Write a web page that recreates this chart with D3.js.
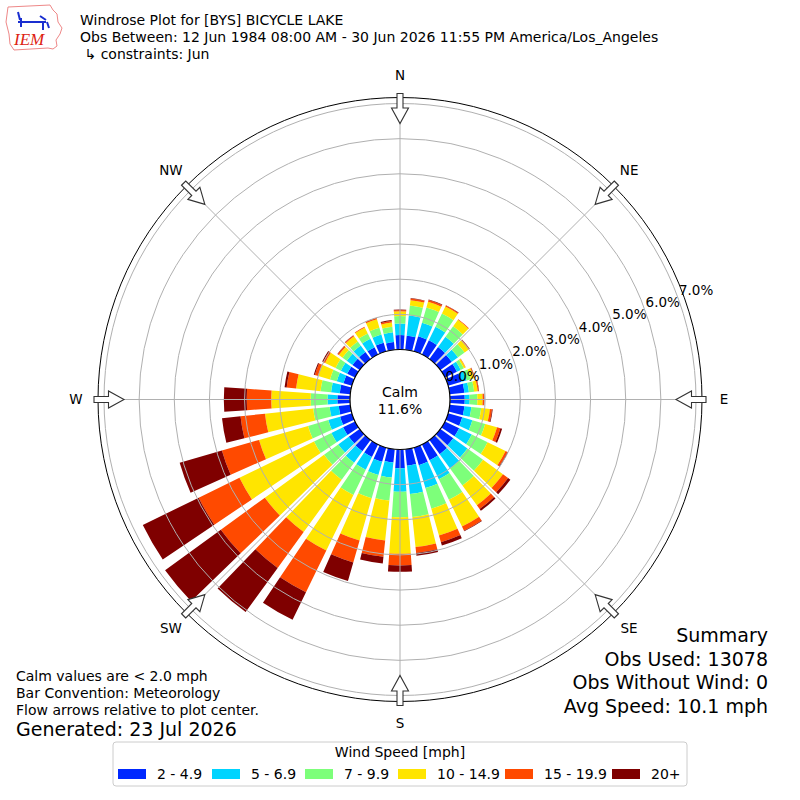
<!DOCTYPE html>
<html>
<head>
<meta charset="utf-8">
<script src="https://cdn.jsdelivr.net/npm/d3@7"></script>
<style>
  body { margin: 0; background: #fff; }
  svg { display: block; font-family: 'DejaVu Sans', sans-serif; }
</style>
</head>
<body>
<div id="chart"></div>
<script>
// directions (deg, meteorological) and frequency (%) per speed bin
const directions = d3.range(0, 360, 10);
const speedBins = ['2 - 4.9', '5 - 6.9', '7 - 9.9', '10 - 14.9', '15 - 19.9', '20+'];
const binColors = ['#0028ff', '#00d4ff', '#7dff7a', '#ffe500', '#ff4a00', '#7f0000'];

const spd2to5 = [0.41, 0.40, 0.45, 0.45, 0.42, 0.40, 0.38, 0.40, 0.42, 0.42, 0.42, 0.42,
  0.45, 0.45, 0.50, 0.50, 0.52, 0.47, 0.53, 0.38, 0.42, 0.40, 0.40, 0.38,
  0.38, 0.35, 0.33, 0.36, 0.30, 0.25, 0.25, 0.25, 0.25, 0.23, 0.26, 0.22];
const spd5to7 = [0.33, 0.58, 0.40, 0.43, 0.36, 0.22, 0.12, 0.15, 0.13, 0.14, 0.20, 0.30,
  0.40, 0.50, 0.50, 0.60, 0.68, 0.81, 0.67, 0.43, 0.39, 0.40, 0.40, 0.37,
  0.37, 0.35, 0.26, 0.28, 0.25, 0.20, 0.20, 0.20, 0.23, 0.27, 0.24, 0.28];
const spd7to10 = [0.21, 0.29, 0.45, 0.42, 0.37, 0.23, 0.10, 0.13, 0.15, 0.22, 0.28, 0.38,
  0.50, 0.55, 0.60, 0.65, 0.61, 0.66, 0.73, 0.66, 0.69, 0.80, 0.60, 0.50,
  0.55, 0.60, 0.47, 0.48, 0.30, 0.20, 0.17, 0.15, 0.14, 0.17, 0.20, 0.16];
const spd10to15 = [0.14, 0.15, 0.17, 0.22, 0.23, 0.15, 0.05, 0.09, 0.10, 0.15, 0.25, 0.35,
  0.57, 0.70, 0.70, 0.85, 0.79, 0.86, 1.04, 1.14, 1.25, 1.76, 1.84, 2.08,
  2.36, 1.45, 1.38, 1.12, 0.70, 0.35, 0.33, 0.13, 0.18, 0.19, 0.25, 0.12];
const spd15to20 = [0.03, 0.05, 0.05, 0.03, 0.02, 0.02, 0.01, 0.02, 0.03, 0.04, 0.06, 0.10,
  0.06, 0.18, 0.13, 0.13, 0.20, 0.17, 0.33, 0.47, 0.65, 1.32, 1.26, 1.55,
  1.29, 1.10, 0.70, 0.70, 0.27, 0.10, 0.06, 0.04, 0.03, 0.02, 0.04, 0.04];
const spd20plus = [0.02, 0.01, 0.02, 0.01, 0.00, 0.01, 0.00, 0.01, 0.01, 0.01, 0.02, 0.05,
  0.02, 0.08, 0.06, 0.02, 0.10, 0.08, 0.18, 0.19, 0.55, 0.87, 1.55, 1.96,
  1.77, 1.25, 0.53, 0.65, 0.06, 0.03, 0.03, 0.01, 0.01, 0.00, 0.01, 0.03];

const radialTicks = [0, 1, 2, 3, 4, 5, 6, 7];
const compassLabels = ['N', 'NE', 'E', 'SE', 'S', 'SW', 'W', 'NW'];
const calmPct = 11.6;

const titleLines = [
  'Windrose Plot for [BYS] BICYCLE LAKE',
  'Obs Between: 12 Jun 1984 08:00 AM - 30 Jun 2026 11:55 PM America/Los_Angeles',
  ' \u21b3 constraints: Jun'
];
const noteLines = ['Calm values are < 2.0 mph', 'Bar Convention: Meteorology', 'Flow arrows relative to plot center.'];
const summaryLines = ['Summary', 'Obs Used: 13078', 'Obs Without Wind: 0', 'Avg Speed: 10.1 mph'];

const width = 800, height = 800;
const cx = 400, cy = 399.5;
const outerR = 302;

const svg = d3.select('#chart').append('svg')
  .attr('width', width).attr('height', height)
  .attr('viewBox', `0 0 ${width} ${height}`);

const r = d3.scaleLinear().domain([0, 7]).range([50, 296]);
const rLabel = d3.scaleLinear().domain([0, 7]).range([66.7, 315.7]);
const toRad = d => d * Math.PI / 180;

// build stacked table
const table = directions.map((d, i) => ({
  dir: d,
  b0: spd2to5[i], b1: spd5to7[i], b2: spd7to10[i],
  b3: spd10to15[i], b4: spd15to20[i], b5: spd20plus[i]
}));
const keys = ['b0', 'b1', 'b2', 'b3', 'b4', 'b5'];
const stacked = d3.stack().keys(keys)(table);

const g = svg.append('g').attr('transform', `translate(${cx},${cy})`);

const halfW = toRad(4);
const arc = d3.arc();

g.append('g').selectAll('g')
  .data(stacked)
  .join('g')
  .attr('fill', (s, i) => binColors[i])
  .selectAll('path')
  .data(s => s)
  .join('path')
  .attr('d', d => arc({
    innerRadius: r(d[0]),
    outerRadius: r(d[1]),
    startAngle: toRad(d.data.dir) - halfW,
    endAngle: toRad(d.data.dir) + halfW
  }));

// grid on top of bars
const grid = g.append('g').attr('fill', 'none').attr('stroke', '#b0b0b0').attr('stroke-width', 1);
grid.selectAll('circle')
  .data(radialTicks)
  .join('circle')
  .attr('r', d => r(d));
grid.selectAll('line')
  .data(d3.range(0, 360, 45))
  .join('line')
  .attr('x1', 0).attr('y1', 0)
  .attr('x2', d => outerR * Math.sin(toRad(d)))
  .attr('y2', d => -outerR * Math.cos(toRad(d)));

g.append('circle').attr('r', outerR).attr('fill', 'none').attr('stroke', '#000').attr('stroke-width', 1);

// calm circle
g.append('circle').attr('r', r(0)).attr('fill', '#fff').attr('stroke', '#000').attr('stroke-width', 1.2);
g.append('text').attr('text-anchor', 'middle').attr('y', -3).style('font-size', '14px').text('Calm');
g.append('text').attr('text-anchor', 'middle').attr('y', 14).style('font-size', '14px').text(`${calmPct.toFixed(1)}%`);

// radial labels
const labAng = toRad(20.3);
g.append('g').selectAll('text')
  .data(radialTicks)
  .join('text')
  .attr('x', d => rLabel(d) * Math.cos(labAng))
  .attr('y', d => -rLabel(d) * Math.sin(labAng))
  .attr('dy', '0.35em')
  .attr('text-anchor', 'middle')
  .style('font-size', '13.5px')
  .text(d => `${d.toFixed(1)}%`);

// compass labels and flow arrows
g.append('g').selectAll('text')
  .data(compassLabels)
  .join('text')
  .attr('x', (d, i) => 324 * Math.sin(toRad(i * 45)))
  .attr('y', (d, i) => -324 * Math.cos(toRad(i * 45)))
  .attr('dy', '0.35em')
  .attr('text-anchor', 'middle')
  .style('font-size', '13.5px')
  .text(d => d);

const arrowPath = 'M-3,-306 L3,-306 L3,-291.5 L8.5,-291.5 L0,-276 L-8.5,-291.5 L-3,-291.5 Z';
g.append('g').selectAll('path')
  .data(d3.range(0, 360, 45))
  .join('path')
  .attr('d', arrowPath)
  .attr('transform', d => `rotate(${d})`)
  .attr('fill', '#fff')
  .attr('stroke', '#333')
  .attr('stroke-width', 1.1);

// header
svg.append('g').selectAll('text')
  .data(titleLines)
  .join('text')
  .attr('x', 80)
  .attr('y', (d, i) => 25 + i * 17)
  .style('font-size', '14px')
  .style('white-space', 'pre')
  .text(d => d);

// logo
const logo = svg.append('g');
logo.append('path')
  .attr('d', 'M8,7 L50,5 L53,10 L57,14 L58,22 L62,28 L60,34 L56,40 L57,46 L53,49 L48,48 L14,50 L10,44 L9,34 L6,22 Z')
  .attr('fill', '#fff').attr('stroke', '#e88').attr('stroke-width', 1);
logo.append('path')
  .attr('d', 'M18,12 L20,20 M18,22 L46,22 M21,18 L21,27 M40,16 L46,20 M43,22 L43,30 M47,22 L49,28')
  .attr('fill', 'none').attr('stroke', '#1a2fd0').attr('stroke-width', 2);
logo.append('text')
  .attr('x', 14).attr('y', 45)
  .style('font-family', 'Liberation Serif, serif')
  .style('font-style', 'italic')
  .style('font-size', '17px')
  .attr('fill', '#d21')
  .text('IEM');

// notes bottom-left
svg.append('g').selectAll('text')
  .data(noteLines)
  .join('text')
  .attr('x', 16)
  .attr('y', (d, i) => 681 + i * 17)
  .style('font-size', '14px')
  .text(d => d);
svg.append('text').attr('x', 16).attr('y', 736).style('font-size', '19px').text('Generated: 23 Jul 2026');

// summary bottom-right
svg.append('g').selectAll('text')
  .data(summaryLines)
  .join('text')
  .attr('x', 768)
  .attr('y', (d, i) => 642 + i * 23.5)
  .attr('text-anchor', 'end')
  .style('font-size', '19px')
  .text(d => d);

// legend
const legend = svg.append('g');
legend.append('rect')
  .attr('x', 113).attr('y', 742).attr('width', 574).attr('height', 44)
  .attr('rx', 3).attr('fill', '#fff').attr('stroke', '#ccc');
legend.append('text').attr('x', 400).attr('y', 757).attr('text-anchor', 'middle')
  .style('font-size', '14px').text('Wind Speed [mph]');
const legX = [118, 212, 305, 398, 505, 612];
const items = legend.selectAll('g.item')
  .data(speedBins)
  .join('g')
  .attr('class', 'item')
  .attr('transform', (d, i) => `translate(${legX[i]},769)`);
items.append('rect').attr('width', 28).attr('height', 10).attr('fill', (d, i) => binColors[i]);
items.append('text').attr('x', 39).attr('y', 10).style('font-size', '14px').text(d => d);
</script>
</body>
</html>
